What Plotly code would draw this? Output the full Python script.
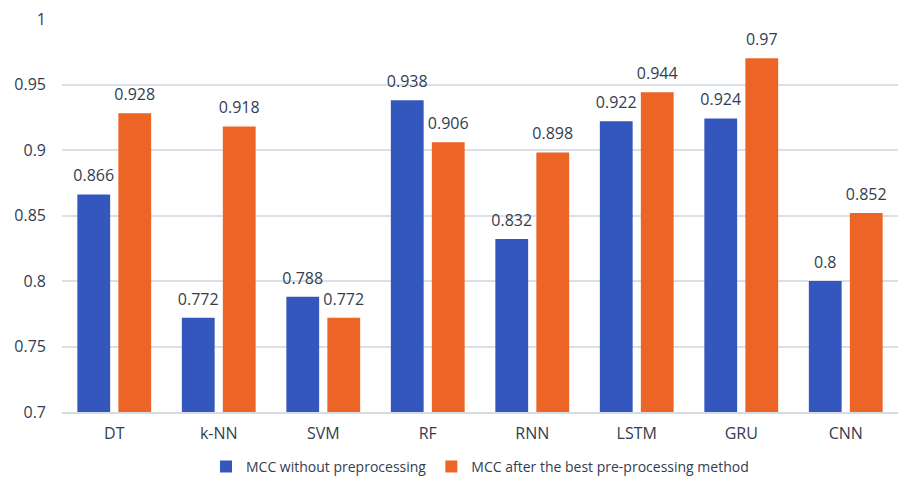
import plotly.graph_objects as go

categories = ["DT", "k-NN", "SVM", "RF", "RNN", "LSTM", "GRU", "CNN"]
mcc_without = [0.866, 0.772, 0.788, 0.938, 0.832, 0.922, 0.924, 0.8]
mcc_after = [0.928, 0.918, 0.772, 0.906, 0.898, 0.944, 0.97, 0.852]
series_names = ["MCC without preprocessing", "MCC after the best pre-processing method"]
y_ticks = [0.7, 0.75, 0.8, 0.85, 0.9, 0.95, 1]
y_tick_labels = ["0.7", "0.75", "0.8", "0.85", "0.9", "0.95", "1"]

text_color = "#333d4f"
font_family = "Open Sans, Lato, sans-serif"
colors = ["#3457bd", "#ec6527"]

fig = go.Figure()
for i, (name, vals) in enumerate([(series_names[0], mcc_without), (series_names[1], mcc_after)]):
    fig.add_trace(go.Bar(
        x=categories, y=vals, name=name, offsetgroup=str(i),
        marker=dict(color=colors[i], line=dict(width=0)),
    ))
for i, vals in enumerate([mcc_without, mcc_after]):
    fig.add_trace(go.Scatter(
        x=categories, y=vals, mode="markers+text", offsetgroup=str(i),
        marker=dict(size=13, color="rgba(0,0,0,0)"),
        text=[f"{v:g}" for v in vals], textposition="top center",
        textfont=dict(size=16, color=text_color),
        showlegend=False, hoverinfo="skip", cliponaxis=False,
    ))

# page body has an 8px default margin, so the figure is sized/placed to compensate
fig.update_layout(
    width=912, height=478,
    margin=dict(l=54, r=22, t=11, b=74, autoexpand=False),
    paper_bgcolor="white", plot_bgcolor="white",
    font=dict(family=font_family, color=text_color, size=14),
    barmode="group", bargap=0.215, bargroupgap=0.2,
    scattermode="group", scattergap=0.215,
    showlegend=True,
    legend=dict(orientation="h", x=0.5, xanchor="center",
                yref="container", y=0.04, yanchor="middle",
                font=dict(size=14, color=text_color),
                traceorder="normal"),
)
fig.update_xaxes(showgrid=False, showline=True, linecolor="#d5dbe3", linewidth=1.5,
                 ticks="", ticklabelstandoff=6,
                 tickfont=dict(size=16, color=text_color))
fig.update_yaxes(range=[0.7, 1], tickvals=y_ticks, ticktext=y_tick_labels,
                 showgrid=True, gridcolor="#d9e0e8", gridwidth=1.5,
                 zeroline=False, showline=False, ticks="", ticklen=0,
                 ticklabelstandoff=15, ticklabeloverflow="allow",
                 tickfont=dict(size=16, color=text_color))

fig.write_html("out.html")
